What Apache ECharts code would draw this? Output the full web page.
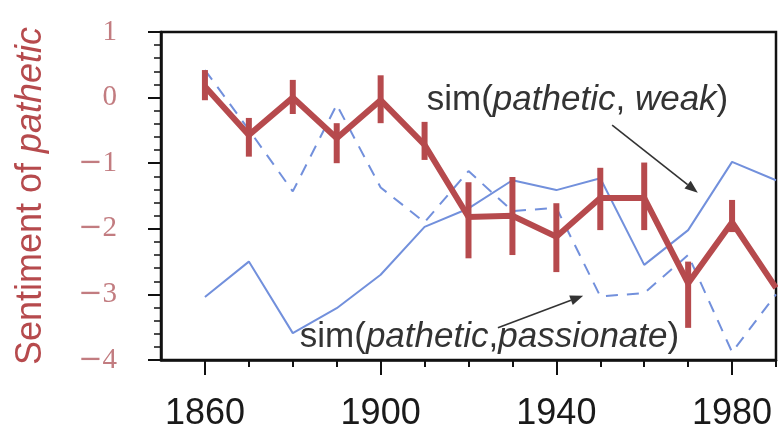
<!DOCTYPE html>
<html>
<head>
<meta charset="utf-8">
<script src="https://cdn.jsdelivr.net/npm/echarts@6/dist/echarts.min.js"></script>
<style>
html,body{margin:0;padding:0;background:#fff;}
#chart{width:778px;height:435px;}
</style>
</head>
<body>
<div id="chart"></div>
<script>
// ---- data ----
const years = [1860, 1870, 1880, 1890, 1900, 1910, 1920, 1930, 1940, 1950, 1960, 1970, 1980, 1990];
const sentiment = [0.17, -0.57, 0.0, -0.62, -0.04, -0.72, -1.82, -1.80, -2.12, -1.53, -1.53, -2.83, -1.90, -2.90];
const errLow  = [-0.04, -0.90, -0.25, -1.00, -0.39, -0.95, -2.45, -2.40, -2.66, -2.02, -2.02, -3.51, -2.05, null];
const errHigh = [0.42, -0.31, 0.27, -0.39, 0.34, -0.37, -1.29, -1.21, -1.61, -1.07, -0.99, -2.50, -1.56, null];
const simWeak = [-3.04, -2.50, -3.59, -3.21, -2.70, -1.97, -1.69, -1.26, -1.41, -1.23, -2.55, -2.02, -0.98, -1.26];
const simPassionate = [0.42, -0.49, -1.43, -0.11, -1.37, -1.90, -1.12, -1.73, -1.68, -3.03, -2.98, -2.40, -3.88, -3.00];
const xMajorTicks = [1860, 1900, 1940, 1980];
const xMinorTicks = [1870, 1880, 1890, 1910, 1920, 1930, 1950, 1960, 1970, 1990];
const yTicks = [-4, -3, -2, -1, 0, 1];
const annotationTexts = ['weak', 'passionate'];

// ---- styling ----
const RED = '#b64a4d';
const BLUE = '#7290dc';
const ANNO = '#333333';
const YLAB = '#c27c80';
const SANS = '"Liberation Sans", Arial, Helvetica, sans-serif';
const SERIF = '"Liberation Serif", "DejaVu Serif", serif';

const errData = [];
years.forEach((y, i) => { if (errLow[i] !== null) errData.push([y, errLow[i], errHigh[i]]); });

// annotation anchors (data coordinates)
const labelData = [
  [1910.5, -0.04, 0],
  [1881.6, -3.66, 1]
];
const arrowData = [
  [1952.7, -0.42, 1972.2, -1.45],
  [1926.7, -3.51, 1946.1, -3.02]
];

const chart = echarts.init(document.getElementById('chart'), null, {renderer: 'canvas'});

const xCommon = {
  type: 'value', min: 1850, max: 1990, gridIndex: 0, position: 'bottom',
  splitLine: {show: false}
};

const option = {
  animation: false,
  backgroundColor: '#fff',
  grid: {left: 161, right: 2, top: 32, bottom: 75, show: true, borderColor: '#111', borderWidth: 2.5, backgroundColor: 'transparent'},
  xAxis: [
    Object.assign({}, xCommon, {
      axisLine: {show: true, onZero: false, lineStyle: {color: '#111', width: 2.5}},
      axisTick: {show: true, customValues: xMajorTicks, length: 15, lineStyle: {color: '#111', width: 2}},
      axisLabel: {show: true, customValues: xMajorTicks, margin: 36, color: '#1a1a1a', fontSize: 36, fontFamily: SANS,
        formatter: v => String(v)}
    }),
    Object.assign({}, xCommon, {
      axisLine: {show: false, onZero: false},
      axisTick: {show: true, customValues: xMinorTicks, length: 7, lineStyle: {color: '#111', width: 2}},
      axisLabel: {show: false}
    })
  ],
  yAxis: {
    type: 'value', min: -4, max: 1, interval: 1,
    name: '{n|Sentiment of }{i|pathetic}',
    nameLocation: 'middle', nameGap: 112, nameRotate: 90,
    nameTextStyle: {
      color: RED, fontSize: 36, fontFamily: SANS,
      rich: {
        n: {color: RED, fontSize: 36, fontFamily: SANS},
        i: {color: RED, fontSize: 36, fontFamily: SANS, fontStyle: 'italic'}
      }
    },
    axisLine: {show: true, onZero: false, lineStyle: {color: '#111', width: 2.5}},
    axisTick: {show: true, length: 13, lineStyle: {color: '#111', width: 2}},
    minorTick: {show: true, splitNumber: 5, length: 7, lineStyle: {color: '#111', width: 1.5}},
    splitLine: {show: false},
    minorSplitLine: {show: false},
    axisLabel: {
      margin: 44, color: YLAB, fontSize: 29, fontFamily: SERIF,
      formatter: v => (yTicks.includes(v) ? (v < 0 ? '{m|\u2212}{d|' + Math.abs(v) + '}' : '{d|' + v + '}') : ''),
      rich: {
        m: {color: YLAB, fontSize: 29, fontFamily: '"DejaVu Serif", serif', fontWeight: 'normal'},
        d: {color: YLAB, fontSize: 29, fontFamily: SERIF}
      }
    }
  },
  series: [
    {
      type: 'line', name: 'sim(pathetic, weak)', xAxisIndex: 0,
      data: years.map((y, i) => [y, simWeak[i]]),
      symbol: 'none', lineStyle: {color: BLUE, width: 2}, z: 2
    },
    {
      type: 'line', name: 'sim(pathetic, passionate)', xAxisIndex: 0,
      data: years.map((y, i) => [y, simPassionate[i]]),
      symbol: 'none', lineStyle: {color: BLUE, width: 2, type: [12, 9]}, z: 2
    },
    {
      type: 'custom', name: 'error', xAxisIndex: 0, clip: true, z: 3,
      data: errData,
      renderItem: function (params, api) {
        const x = api.value(0);
        const p1 = api.coord([x, api.value(1)]);
        const p2 = api.coord([x, api.value(2)]);
        return {type: 'line', shape: {x1: p1[0], y1: p1[1], x2: p2[0], y2: p2[1]}, style: {stroke: RED, lineWidth: 6}};
      }
    },
    {
      type: 'line', name: 'Sentiment of pathetic', xAxisIndex: 0,
      data: years.map((y, i) => [y, sentiment[i]]),
      symbol: 'none', lineStyle: {color: RED, width: 6, join: 'miter'}, z: 4
    },
    {
      type: 'custom', name: 'arrows', xAxisIndex: 0, z: 5, clip: false,
      data: arrowData,
      renderItem: function (params, api) {
        const a = api.coord([api.value(0), api.value(1)]);
        const b = api.coord([api.value(2), api.value(3)]);
        const dx = b[0] - a[0], dy = b[1] - a[1];
        const len = Math.sqrt(dx * dx + dy * dy);
        const ux = dx / len, uy = dy / len;
        const hl = 13, hw = 5;
        const bx = b[0] - ux * hl, by = b[1] - uy * hl;
        return {
          type: 'group',
          children: [
            {type: 'line', shape: {x1: a[0], y1: a[1], x2: bx, y2: by}, style: {stroke: ANNO, lineWidth: 1.6}},
            {type: 'polygon', shape: {points: [[b[0], b[1]], [bx - uy * hw, by + ux * hw], [bx + uy * hw, by - ux * hw]]}, style: {fill: ANNO}}
          ]
        };
      }
    },
    {
      type: 'custom', name: 'labels', xAxisIndex: 0, z: 6, clip: false,
      data: labelData,
      renderItem: function (params, api) {
        const p = api.coord([api.value(0), api.value(1)]);
        const idx = api.value(2);
        const txt = idx === 0
          ? '{n|sim(}{i|pathetic}{n|, }{i|' + annotationTexts[0] + '}{n|)}'
          : '{n|sim(}{i|pathetic}{n|,}{i|' + annotationTexts[1] + '}{n|)}';
        return {
          type: 'text', x: p[0], y: p[1],
          style: {
            text: txt, align: 'left', verticalAlign: 'middle',
            fill: ANNO, fontSize: 35, fontFamily: SANS,
            rich: {
              n: {fill: ANNO, color: ANNO, fontSize: 35, fontFamily: SANS},
              i: {fill: ANNO, color: ANNO, fontSize: 35, fontFamily: SANS, fontStyle: 'italic'}
            }
          }
        };
      }
    }
  ]
};
chart.setOption(option);
</script>
</body>
</html>
